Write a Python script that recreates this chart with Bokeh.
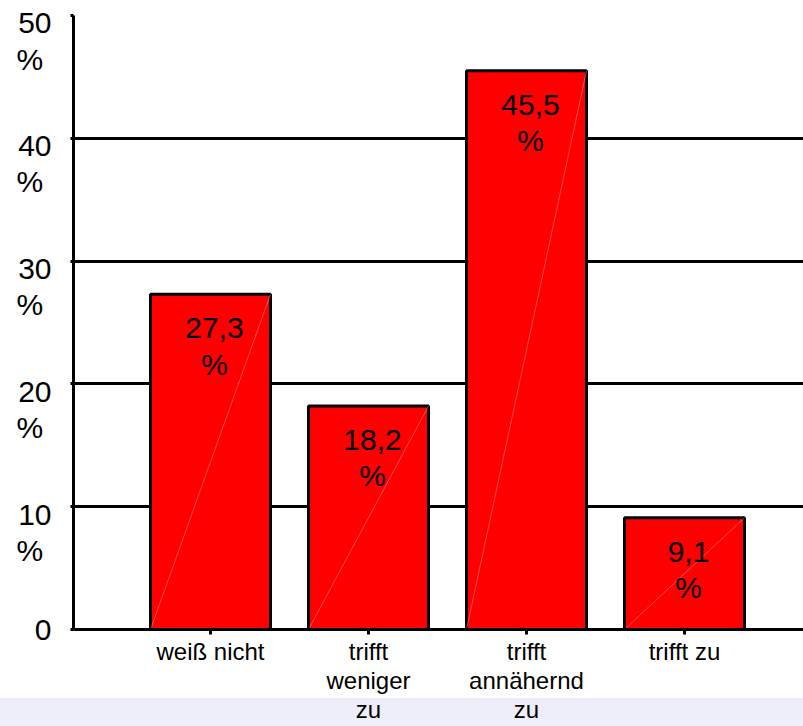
import numpy as np
from bokeh.plotting import figure
from bokeh.models import Range1d, FixedTicker, LinearAxis, CustomJSTickFormatter
from bokeh.core.properties import value
from bokeh.embed import file_html
from bokeh.resources import INLINE

categories = ["weiß nicht", "trifft\nweniger\nzu", "trifft\nannähernd\nzu", "trifft zu"]
values = [27.3, 18.2, 45.5, 9.1]
value_labels = ["27,3\n%", "18,2\n%", "45,5\n%", "9,1\n%"]
y_ticks = [0, 10, 20, 30, 40, 50]
y_tick_labels = ["0", "10\n%\u00a0", "20\n%\u00a0", "30\n%\u00a0", "40\n%\u00a0", "50\n%\u00a0"]

FONT = "Liberation Sans"
BAR_W = 120 / 158
xs = np.arange(1, len(categories) + 1)

p = figure(width=803, height=726, output_backend="svg", toolbar_location=None,
           x_range=Range1d(1 - 137 / 158, len(categories) + 119 / 158),
           y_range=Range1d(0, 50),
           min_border_left=73, min_border_right=0, min_border_top=15, min_border_bottom=97)
p.outline_line_color = None
p.background_fill_color = "white"
p.border_fill_color = None
p.styles = {"background": "linear-gradient(to bottom, #ffffff 0px, #ffffff 698px, #ededfa 698px, #f0f0fb 726px)"}

# grid
p.xgrid.visible = False
p.ygrid.ticker = FixedTicker(ticks=y_ticks)
p.ygrid.grid_line_color = "black"
p.ygrid.grid_line_width = 3

# main y axis: line and ticks only
ya = p.yaxis[0]
ya.ticker = FixedTicker(ticks=y_ticks)
ya.axis_line_color = "black"
ya.axis_line_width = 3
ya.major_tick_line_color = "black"
ya.major_tick_line_width = 3
ya.major_tick_out = 3
ya.major_tick_in = 0
ya.minor_tick_line_color = None
ya.major_label_text_color = None
ya.major_label_standoff = 0

# label axis: labels shifted so the number sits just under its gridline
label_shift = 25.5 / 12.28
label_pos = [t if i == 0 else t - label_shift for i, t in enumerate(y_ticks)]
la = LinearAxis(ticker=FixedTicker(ticks=label_pos),
                formatter=CustomJSTickFormatter(args=dict(labels=y_tick_labels),
                                                code="return labels[index]"))
la.axis_line_color = None
la.major_tick_line_color = None
la.minor_tick_line_color = None
la.major_label_standoff = 13
la.major_label_text_font = FONT
la.major_label_text_font_size = "30px"
la.major_label_text_color = "black"
la.major_label_text_line_height = 1.1
p.add_layout(la, "left")

# x axis
xa = p.xaxis[0]
xa.ticker = FixedTicker(ticks=list(xs))
xa.major_label_overrides = {int(x): c for x, c in zip(xs, categories)}
xa.axis_line_color = "black"
xa.axis_line_width = 3
xa.major_tick_line_color = "black"
xa.major_tick_line_width = 3
xa.major_tick_out = 5
xa.major_tick_in = 0
xa.minor_tick_line_color = None
xa.major_label_standoff = 3
xa.major_label_text_font = FONT
xa.major_label_text_font_size = "24px"
xa.major_label_text_color = "black"
xa.major_label_text_line_height = 1.08

# bars
p.vbar(x=xs, top=values, bottom=0, width=BAR_W,
       fill_color="#FF0000", line_color="black", line_width=3)

# faint diagonal sheen inside each bar
p.segment(x0=xs - BAR_W / 2, y0=np.zeros(len(values)), x1=xs + BAR_W / 2, y1=values,
          line_color="#FF8A8A", line_width=0.7, line_alpha=0.8)

# value labels
p.text(x=xs, y=values, text=value_labels, text_align="center", text_baseline="top",
       x_offset=4, y_offset=17, text_font=value(FONT), text_font_size="30px",
       text_line_height=1.1, text_color="black")

open("out.html", "w").write(file_html(p, INLINE))
